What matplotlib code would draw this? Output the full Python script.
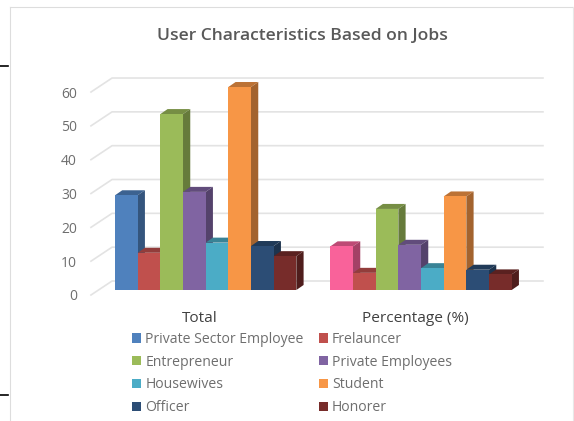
import matplotlib
matplotlib.use("Agg")
import matplotlib.pyplot as plt
from matplotlib.colors import to_rgb
from matplotlib.lines import Line2D
from matplotlib.patches import Patch, Polygon
from matplotlib.transforms import ScaledTranslation

# Data
GROUPS = ["Total", "Percentage (%)"]
JOBS = ["Private Sector Employee", "Frelauncer", "Entrepreneur", "Private Employees",
        "Housewives", "Student", "Officer", "Honorer"]
TOTAL = [28, 11, 52, 29, 14, 60, 13, 10]
PERCENT = [12.9, 5.07, 23.96, 13.36, 6.45, 27.65, 5.99, 4.61]
COLORS = ["#4F81BD", "#C0504D", "#9BBB59", "#8064A2",
          "#4BACC6", "#F79646", "#2C4D75", "#772C2A"]
PINK = "#F9629A"   # first bar of the second group
YTICKS = [0, 10, 20, 30, 40, 50, 60]

# Settings
W, H = 574, 421
TEXT = "#595959"
LEGEND_TEXT = "#6E6E6E"
GRID = "#E3E3E3"
FONT = "Open Sans"
GROUP_GAP = 1.5    # in bar widths
DEPTH_X = 0.32
DEPTH_Y = 1.48
WALL_X, WALL_Y = -0.13, 2.66
FLOOR_X, FLOOR_Y = -1.06, -1.48

plt.rcParams["font.family"] = FONT


def shade(color, k):
    return tuple(c * k for c in to_rgb(color))


def draw_bar(ax, x, value, color, z):
    # box made of a top and a side face plus the front from ax.bar
    top = [(x, value), (x + 1, value), (x + 1 + DEPTH_X, value + DEPTH_Y), (x + DEPTH_X, value + DEPTH_Y)]
    side = [(x + 1, 0), (x + 1 + DEPTH_X, DEPTH_Y), (x + 1 + DEPTH_X, value + DEPTH_Y), (x + 1, value)]
    ax.add_patch(Polygon(top, closed=True, fc=shade(color, 0.76), ec="none", zorder=z))
    ax.add_patch(Polygon(side, closed=True, fc=shade(color, 0.66), ec="none", zorder=z))
    ax.bar(x, value, width=1, align="edge", color=color, zorder=z + 0.5)


def fig_line(fig, x0, y0, x1, y1, color, lw):
    fig.add_artist(Line2D([x0 / W, x1 / W], [1 - y0 / H, 1 - y1 / H],
                          transform=fig.transFigure, color=color, lw=lw))


fig = plt.figure(figsize=(W / 100, H / 100), dpi=100)
ax = fig.add_axes([91 / W, (H - 300) / H, (545 - 91) / W, 230 / H])
ax.set_xlim(-1.059, 18.97)
ax.set_ylim(-2.956, 65.03)
for spine in ax.spines.values():
    spine.set_visible(False)

# Frame around the chart and the two stray rules on the left
fig_line(fig, 9.5, 6.5, 9.5, H, "#DDDDDD", 0.8)
fig_line(fig, 9.5, 6.5, W, 6.5, "#DDDDDD", 0.8)
fig_line(fig, 573, 6.5, 573, H, "#E8E8E8", 0.8)
fig_line(fig, 0, 66, 8, 66, "black", 1.2)
fig_line(fig, 0, 395, 8, 395, "black", 1.2)

# Back wall gridlines with their floor diagonals
for v in YTICKS:
    ax.plot([FLOOR_X, WALL_X, 18.88], [v + FLOOR_Y, v + WALL_Y, v + WALL_Y],
            color=GRID, lw=1.2, zorder=1, clip_on=False)

n = len(JOBS)
centers = []
for g, values in enumerate([TOTAL, PERCENT]):
    start = g * (n + GROUP_GAP)
    centers.append(start + n / 2)
    for i, val in enumerate(values):
        color = PINK if (g == 1 and i == 0) else COLORS[i]
        draw_bar(ax, start + i, val, color, 2 + i)

# Tick labels sit on the front edge of the floor
ax.set_yticks(YTICKS)
ax.set_xticks(centers)
ax.set_xticklabels(GROUPS, fontsize=11.1, color="#404040")
ax.tick_params(axis="y", length=0, pad=10, labelsize=10, labelcolor=LEGEND_TEXT)
ax.tick_params(axis="x", length=0, pad=8.2)
dy_shift = ScaledTranslation(0, -5 / 100, fig.dpi_scale_trans)
for lab in ax.get_yticklabels():
    lab.set_transform(lab.get_transform() + dy_shift)
dx_shift = ScaledTranslation(-6 / 100, 0, fig.dpi_scale_trans)
for lab in ax.get_xticklabels():
    lab.set_transform(lab.get_transform() + dx_shift)

fig.text(302 / W, 1 - 36 / H, "User Characteristics Based on Jobs", ha="center", va="center",
         fontsize=12.6, fontweight="semibold", color=TEXT)

# Legend reads row by row, matplotlib fills column by column
handles = [Patch(fc=c, ec="none", label=j) for c, j in zip(COLORS, JOBS)]
order = [0, 2, 4, 6, 1, 3, 5, 7]
leg = fig.legend([handles[i] for i in order], [JOBS[i] for i in order], ncol=2,
                 loc="upper left", bbox_to_anchor=(132 / W, 1 - 332 / H), frameon=False,
                 fontsize=10.1, labelcolor=LEGEND_TEXT, handlelength=0.65, handleheight=0.65,
                 handletextpad=0.29, columnspacing=1.07, labelspacing=0.55,
                 borderpad=0, borderaxespad=0)

fig.savefig("out.png", dpi=100)
plt.close(fig)
